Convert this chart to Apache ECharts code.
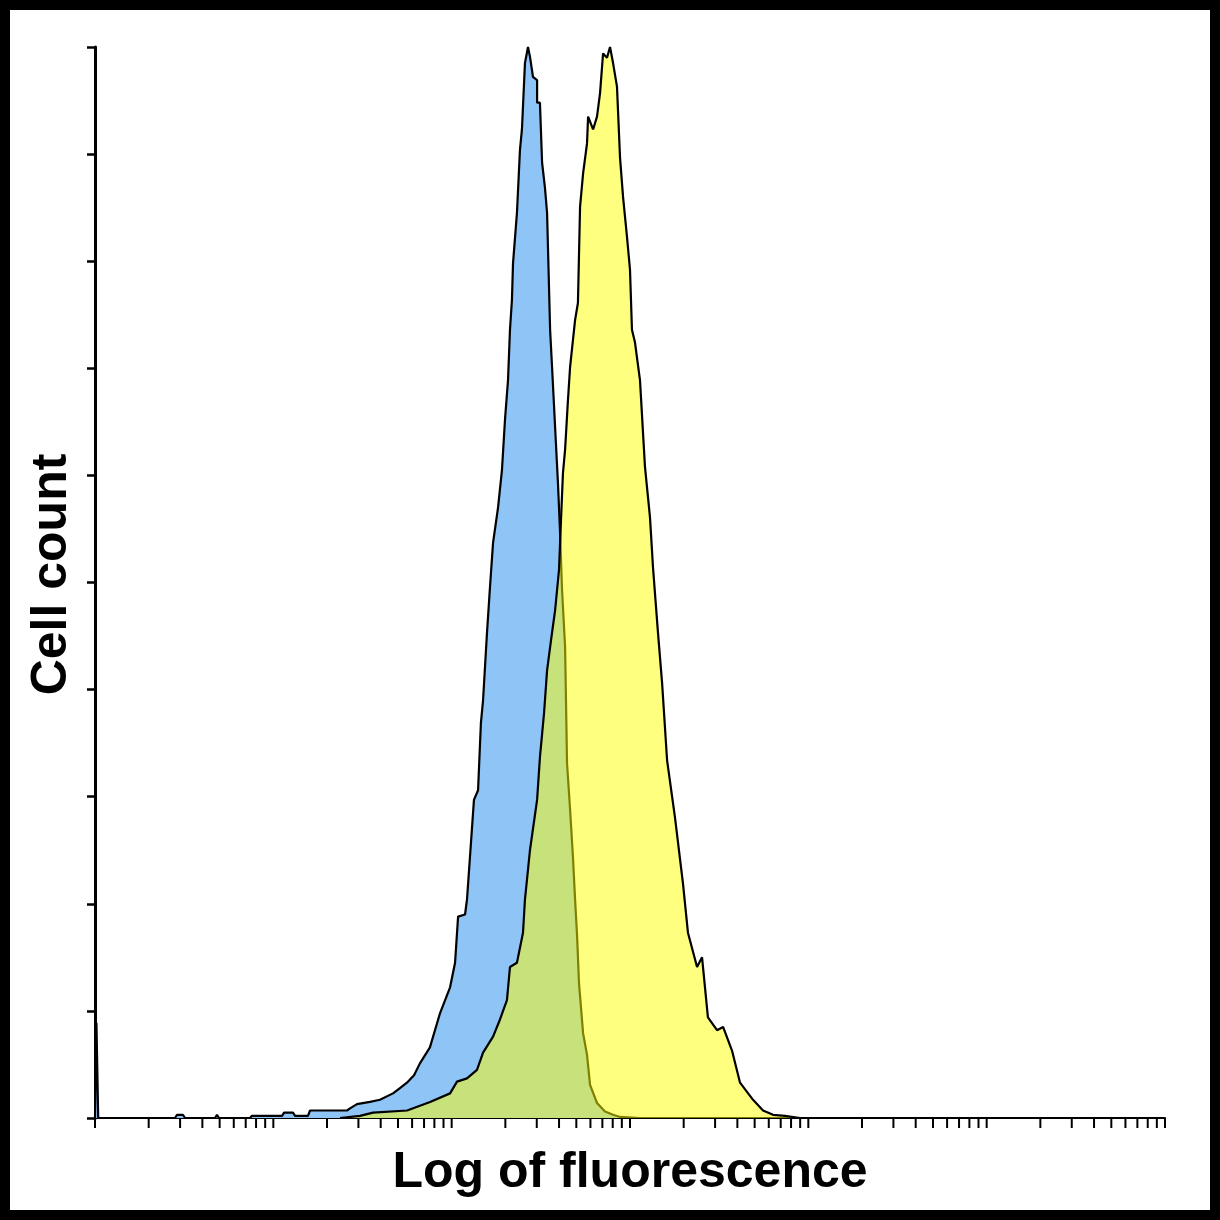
<!DOCTYPE html>
<html>
<head>
<meta charset="utf-8">
<title>Cell count vs log of fluorescence</title>
<script src="https://cdn.jsdelivr.net/npm/echarts@6.0.0/dist/echarts.min.js"></script>
<style>
  body { margin: 0; background: #000; }
  #chart { position: absolute; left: 10px; top: 10px; width: 1200px; height: 1200px; background: #fff; }
</style>
</head>
<body>
<div id="chart"></div>
<script>
  // x = log10 of fluorescence (decades), y = cell count in % of the tallest bin
  const blueLog = [0.000, 0.008, 0.008, 0.018, 0.018, 0.449, 0.460, 0.493, 0.505, 0.673, 0.684, 0.695,
    0.869, 0.880, 1.049, 1.060, 1.110, 1.122, 1.194, 1.206, 1.273, 1.413,
    1.430, 1.469, 1.542, 1.598, 1.671, 1.710, 1.749, 1.789, 1.822, 1.878,
    1.935, 1.991, 2.019, 2.036, 2.075, 2.086, 2.125, 2.148, 2.164, 2.176,
    2.198, 2.215, 2.232, 2.260, 2.282, 2.299, 2.316, 2.327, 2.338, 2.344,
    2.366, 2.383, 2.394, 2.411, 2.428, 2.439, 2.456, 2.479, 2.479, 2.495,
    2.507, 2.523, 2.535, 2.540, 2.552, 2.563, 2.580, 2.596, 2.608, 2.619,
    2.636, 2.641, 2.647, 2.664, 2.680, 2.692, 2.703, 2.714, 2.737, 2.759,
    2.776, 2.815, 2.860, 2.905, 2.944, 3.056];
  const blueCount = [0, 0, 8.9, 8.9, 0, 0, 0.3, 0.3, 0, 0, 0.3, 0,
    0, 0.2, 0.2, 0.5, 0.5, 0.2, 0.2, 0.7, 0.7, 0.7,
    0.9, 1.3, 1.5, 1.7, 2.3, 2.8, 3.3, 4.0, 5.1, 6.6,
    9.8, 12.2, 14.5, 18.8, 19.0, 20.4, 29.7, 30.6, 36.9, 39.0,
    45.3, 49.6, 53.7, 57.0, 60.5, 65.2, 68.9, 73.6, 76.4, 79.8,
    84.5, 90.4, 92.3, 98.5, 100, 99.1, 97.2, 96.9, 94.8, 94.8,
    89.2, 86.9, 84.5, 81.3, 73.6, 70.1, 64.5, 59.3, 54.6, 49.3,
    44.0, 39.0, 33.1, 28.8, 24.4, 20.4, 17.1, 12.6, 7.9, 5.9,
    3.1, 1.4, 0.6, 0.3, 0.1, 0];

  const yellowLog = [1.374, 1.486, 1.559, 1.750, 1.879, 1.991, 2.030, 2.086, 2.142, 2.176,
    2.232, 2.271, 2.310, 2.327, 2.366, 2.400, 2.411, 2.439, 2.479, 2.495,
    2.518, 2.535, 2.557, 2.580, 2.602, 2.613, 2.624, 2.636, 2.652, 2.664,
    2.692, 2.708, 2.720, 2.737, 2.759, 2.765, 2.793, 2.815, 2.832, 2.849,
    2.871, 2.888, 2.899, 2.905, 2.927, 2.944, 2.961, 2.983, 3.000, 3.011,
    3.028, 3.056, 3.084, 3.112, 3.129, 3.157, 3.180, 3.208, 3.252, 3.297,
    3.325, 3.376, 3.404, 3.437, 3.488, 3.522, 3.572, 3.617, 3.690, 3.746,
    3.802, 3.869, 3.953];
  const yellowCount = [0, 0.2, 0.5, 0.7, 1.5, 2.3, 3.4, 3.7, 4.5, 6.1,
    7.6, 9.2, 11.0, 14.1, 14.5, 17.3, 20.4, 25.0, 29.7, 33.7,
    37.8, 41.8, 44.6, 47.4, 51.2, 55.8, 60.2, 62.4, 67.0, 70.1,
    74.5, 76.1, 85.1, 88.2, 91.0, 93.5, 92.3, 93.5, 95.7, 99.4,
    99.0, 100, 100, 98.5, 96.3, 89.7, 86.0, 82.3, 79.2, 73.6,
    72.4, 68.9, 60.8, 56.1, 51.4, 45.3, 40.6, 33.4, 28.1, 21.9,
    17.3, 14.1, 15.0, 9.4, 8.2, 8.5, 6.3, 3.3, 1.7, 0.7,
    0.3, 0.2, 0];

  // log axis ticks: every decade plus 2..9 inside it
  const decades = [0, 1, 2, 3, 4, 5];
  const minorSteps = [2, 3, 4, 5, 6, 7, 8, 9];

  const zip = (xs, ys) => xs.map((x, i) => [x, ys[i]]);
  const tickData = [[6, 0]];
  decades.forEach(d => {
    tickData.push([d, 0]);
    minorSteps.forEach(k => tickData.push([d + Math.log10(k), 0]));
  });

  const chart = echarts.init(document.getElementById('chart'));
  chart.setOption({
    animation: false,
    backgroundColor: '#fff',
    grid: { left: 85, top: 37, right: 45, bottom: 92 },
    xAxis: {
      type: 'value', min: 0, max: 6, interval: 1,
      name: 'Log of fluorescence', nameLocation: 'middle', nameGap: 30,
      nameTextStyle: { fontSize: 50, fontWeight: 'bold', fontFamily: 'Liberation Sans', color: '#000' },
      axisLine: { lineStyle: { color: '#000', width: 2 } },
      axisTick: { show: false },
      axisLabel: { show: false },
      splitLine: { show: false }
    },
    yAxis: {
      type: 'value', min: 0, max: 100, interval: 10,
      name: 'Cell count', nameLocation: 'middle', nameGap: 18, nameRotate: 90,
      nameTextStyle: { fontSize: 50, fontWeight: 'bold', fontFamily: 'Liberation Sans', color: '#000', padding: [0, 0, 0, 16] },
      axisLine: { show: true, lineStyle: { color: '#000', width: 3 } },
      axisTick: { show: true, length: 8, lineStyle: { color: '#000', width: 2.5 } },
      axisLabel: { show: false },
      splitLine: { show: false }
    },
    series: [
      {
        name: 'blue', type: 'line', data: zip(blueLog, blueCount),
        symbol: 'none', z: 2,
        lineStyle: { color: '#000', width: 2.2 },
        areaStyle: { color: '#8fc4f7', opacity: 1 }
      },
      {
        name: 'yellow', type: 'line', data: zip(yellowLog, yellowCount),
        symbol: 'none', z: 3,
        lineStyle: { color: '#000', width: 2.2 },
        areaStyle: { color: '#ffff00', opacity: 0.5 }
      },
      {
        name: 'ticks', type: 'custom', data: tickData, z: 4, silent: true,
        renderItem: (params, api) => {
          const p = api.coord([api.value(0), 0]);
          return {
            type: 'line',
            shape: { x1: p[0], y1: p[1], x2: p[0], y2: p[1] + 10 },
            style: { stroke: '#000', lineWidth: 2 }
          };
        }
      }
    ]
  });
</script>
</body>
</html>
